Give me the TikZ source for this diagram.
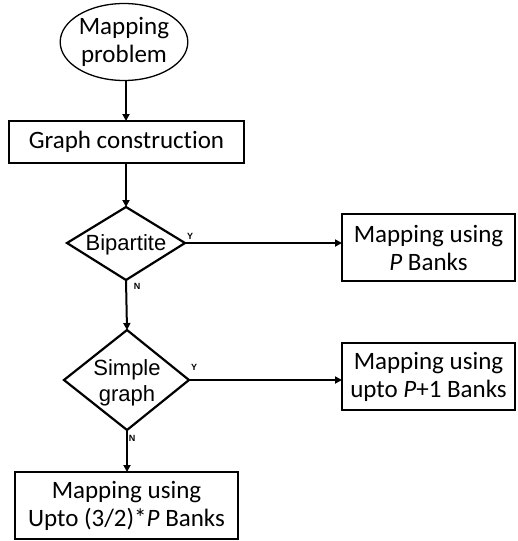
\documentclass[tikz,border=0pt]{standalone}
\usepackage{fontspec}
\setmainfont{Carlito}[Ligatures={NoCommon,NoRare,NoContextual}]
\newfontfamily\arialf{Liberation Sans}
\usetikzlibrary{shapes.geometric,arrows.meta}
\begin{document}
\begin{tikzpicture}[x=1pt,y=-1pt,
  every node/.style={inner sep=0pt,outer sep=0pt,line width=2.2pt},
  bigtxt/.style={font=\fontsize{25}{28}\selectfont,align=center},
  boxn/.style={draw,rectangle,bigtxt},
  ellip/.style={draw,ellipse,bigtxt,line width=1.3pt},
  diatxt/.style={font=\arialf\fontsize{22}{26}\selectfont,align=center},
  diaedge/.style={draw,line width=2.2pt,line join=miter},
  yn/.style={font=\arialf\bfseries\fontsize{9}{10}\selectfont},
  conn/.style={line width=2pt,-{Triangle[length=7pt,width=7pt]}}]
\useasboundingbox (0,0) rectangle (518,541);
\node[ellip,minimum width=125pt,minimum height=77pt] (mp) at (124,42) {Mapping\\problem};
\node[boxn,minimum width=235pt,minimum height=42pt] (gc) at (126.5,142) {Graph construction};
\coordinate (bpL) at (67,243);
\coordinate (bpT) at (126,207);
\coordinate (bpR) at (185,243);
\coordinate (bpB) at (126,280);
\path[diaedge] (bpL) -- (bpT) -- (bpR) -- (bpB) -- cycle;
\node[diatxt] (bpt) at (126,245) {Bipartite};
\coordinate (sgL) at (64,380);
\coordinate (sgT) at (127,330);
\coordinate (sgR) at (189,380);
\coordinate (sgB) at (127,430);
\path[diaedge] (sgL) -- (sgT) -- (sgR) -- (sgB) -- cycle;
\node[diatxt] (sgt) at (127,383) {Simple\\graph};
\node[boxn,minimum width=173pt,minimum height=67pt] (b1) at (428.5,247.5) {Mapping using\\\textit{P} Banks};
\node[boxn,minimum width=173pt,minimum height=67pt] (b2) at (428.5,376.5) {Mapping using\\upto \textit{P}+1 Banks};
\node[boxn,minimum width=223pt,minimum height=67pt] (b3) at (126.5,505.5) {Mapping using\\Upto (3/2)*\textit{P} Banks};
\node[yn] (y1) at (190,236) {Y};
\node[yn] (n1) at (137,286) {N};
\node[yn] (y2) at (194,367) {Y};
\node[yn] (n2) at (132,438) {N};
\draw[conn] (mp.south -| 126,0) -- (gc.north -| 126,0);
\draw[conn] (gc.south -| 126,0) -- (bpT);
\draw[conn] (bpB) -- (sgT);
\draw[conn] (bpR) -- (b1.west |- bpR);
\draw[conn] (sgR) -- (b2.west |- sgR);
\draw[conn] (sgB) -- (b3.north -| sgB);
\end{tikzpicture}
\end{document}
